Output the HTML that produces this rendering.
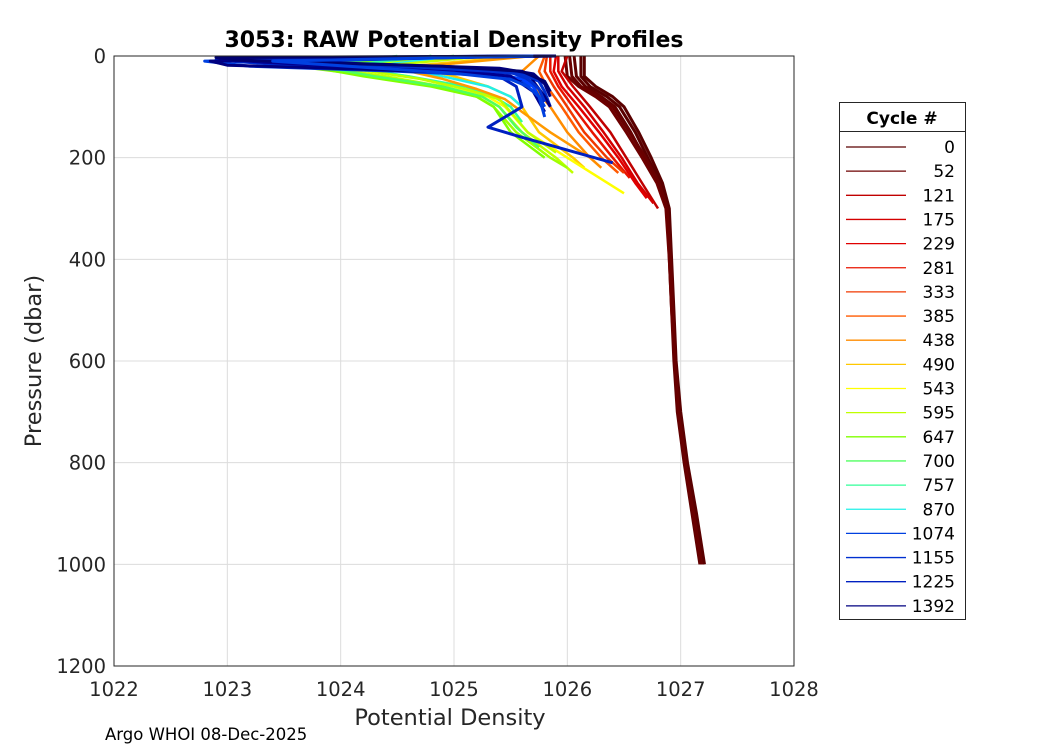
<!DOCTYPE html>
<html><head><meta charset="utf-8"><style>
body{margin:0;background:#fff;}
svg{display:block;font-family:"DejaVu Sans","Liberation Sans",sans-serif;}
</style></head><body>
<svg id="chart" width="1050" height="750">
<rect width="1050" height="750" fill="#fff"/>
<g id="grid"></g>
<g id="profiles"></g>
<rect x="114" y="56" width="680" height="610" fill="none" stroke="#262626" stroke-width="1"/>
<g id="ticks"></g>
<text x="454" y="47" text-anchor="middle" font-size="22" font-weight="bold" fill="#000">3053: RAW Potential Density Profiles</text>
<text x="450" y="725" text-anchor="middle" font-size="22.5" fill="#262626">Potential Density</text>
<text transform="translate(41,361) rotate(-90)" text-anchor="middle" font-size="22.5" fill="#262626">Pressure (dbar)</text>
<text x="105" y="740" font-size="16.5" fill="#000">Argo WHOI 08-Dec-2025</text>
<g id="legend">
<rect x="839.5" y="102.5" width="126" height="517" fill="#fff" stroke="#262626"/>
<line x1="839.5" y1="131.5" x2="965.5" y2="131.5" stroke="#262626"/>
<text x="902" y="124" text-anchor="middle" font-size="17" font-weight="bold" fill="#000">Cycle #</text>
</g>
</svg>
<script>
const xTicks=[1022,1023,1024,1025,1026,1027,1028];
const yTicks=[0,200,400,600,800,1000,1200];
const legendCycles=["0","52","121","175","229","281","333","385","438","490","543","595","647","700","757","870","1074","1155","1225","1392"];
const legendColors=["#5a0000","#6e0000","#c00000","#d40000","#e00000","#e81400","#f03800","#ff5a00","#ff8c00","#ffc800","#ffff00","#c0ff00","#80ff00","#50ff60","#30ff98","#20f0e8","#0040e0","#0030d0","#0020c0","#000080"];
const profileColors=["#5a0000","#600000","#6e0000","#5a0000","#680000","#c00000","#d40000","#e00000","#e81400","#f03800","#ff5a00","#ff8c00","#ffc800","#ffff00","#c0ff00","#a0ff00","#80ff00","#50ff60","#30ff98","#20f0e8","#c0ff00","#ff9a00","#0040e0","#0030d0","#0020c0","#000080","#0040ff","#000090","#000080","#0030d0","#000070","#0040e0"];
const profilePressures=[
[0,40,60,80,100,150,200,250,300,400,500,600,700,800,900,1000],
[0,40,60,80,100,150,200,250,300,400,500,600,700,800,900,1000],
[0,40,60,80,100,150,200,250,300,400,500,600,700,800,900,1000],
[0,40,60,80,100,150,200,250,300,400,500,600,700,800,900,1000],
[0,40,60,80,100,150,200,250,300,400,500,600,700,800,900,1000],
[0,30,60,100,150,200,250,300],
[0,30,60,100,150,200,250,290],
[0,30,60,100,150,200,250,280],
[0,30,60,100,150,200,240],
[0,30,60,100,150,200,230],
[0,30,60,100,150,200,230],
[0,30,60,100,150,200,220],
[0,20,40,60,80,100,150,200,220],
[0,20,40,60,80,100,150,200,270],
[0,20,40,60,80,100,150,200,230],
[0,20,40,60,80,100,150,200,220],
[0,20,40,60,80,100,150,200],
[0,20,40,60,80,100,140,180],
[0,20,40,60,80,100,130],
[0,20,40,60,80,100],
[0,25,45,65,85,110,150,190],
[0,25,45,65,85,110,150,200],
[0,10,20,30,40,60,80,100],
[0,8,16,25,35,50,70,100],
[0,12,20,30,40,60,100,140,160,210],
[0,10,18,26,35,50,80,100],
[0,5,14,22,30,45,60,90],
[0,6,12,20,28,40,70,110],
[0,4,10,18,24,35,55,80],
[0,8,14,22,32,45,65,90],
[0,3,8,14,20,30,50,70],
[0,10,22,34,46,60,80,120]];
const profileDensities=[
[1026.12,1026.12,1026.2,1026.35,1026.46,1026.6,1026.71,1026.82,1026.89,1026.91,1026.93,1026.95,1026.98,1027.04,1027.12,1027.19],
[1026.06,1026.08,1026.16,1026.3,1026.42,1026.56,1026.68,1026.8,1026.88,1026.9,1026.92,1026.94,1026.97,1027.03,1027.1,1027.17],
[1025.98,1026.0,1026.1,1026.25,1026.37,1026.52,1026.66,1026.79,1026.87,1026.9,1026.92,1026.95,1026.99,1027.05,1027.13,1027.2],
[1026.15,1026.15,1026.25,1026.4,1026.5,1026.63,1026.74,1026.84,1026.9,1026.92,1026.94,1026.96,1027.0,1027.06,1027.14,1027.21],
[1026.02,1026.04,1026.12,1026.28,1026.4,1026.55,1026.69,1026.81,1026.88,1026.91,1026.93,1026.95,1026.98,1027.04,1027.11,1027.18],
[1026.0,1025.95,1026.05,1026.2,1026.38,1026.52,1026.66,1026.8],
[1025.92,1025.92,1026.0,1026.15,1026.32,1026.48,1026.62,1026.76],
[1025.9,1025.88,1025.95,1026.1,1026.28,1026.45,1026.6,1026.7],
[1025.85,1025.85,1025.92,1026.05,1026.22,1026.4,1026.55],
[1025.82,1025.8,1025.88,1026.0,1026.15,1026.35,1026.5],
[1025.8,1025.75,1025.82,1025.95,1026.1,1026.3,1026.45],
[1025.75,1025.6,1025.7,1025.85,1026.0,1026.2,1026.3],
[1025.6,1024.6,1025.0,1025.3,1025.5,1025.6,1025.75,1026.05,1026.15],
[1025.4,1024.0,1024.6,1025.0,1025.3,1025.45,1025.65,1026.0,1026.5],
[1025.2,1023.8,1024.4,1024.9,1025.25,1025.4,1025.6,1025.9,1026.05],
[1025.0,1023.6,1024.3,1024.85,1025.2,1025.35,1025.55,1025.85,1026.0],
[1024.8,1023.7,1024.2,1024.8,1025.2,1025.35,1025.5,1025.8],
[1024.5,1023.8,1024.3,1024.9,1025.25,1025.4,1025.55,1025.75],
[1024.8,1024.0,1024.6,1025.1,1025.35,1025.5,1025.6],
[1025.0,1024.3,1024.9,1025.3,1025.5,1025.6],
[1025.3,1024.1,1024.7,1025.1,1025.4,1025.5,1025.65,1025.9],
[1025.7,1024.5,1024.9,1025.2,1025.45,1025.6,1025.85,1026.2],
[1025.7,1022.8,1023.2,1024.5,1025.5,1025.7,1025.75,1025.8],
[1025.8,1022.9,1023.4,1024.8,1025.6,1025.75,1025.8,1025.85],
[1025.6,1023.3,1024.0,1024.9,1025.4,1025.55,1025.6,1025.3,1025.6,1026.4],
[1025.9,1022.85,1023.0,1024.2,1025.3,1025.7,1025.8,1025.85],
[1025.5,1023.1,1023.6,1024.4,1025.2,1025.6,1025.7,1025.75],
[1025.7,1022.95,1023.3,1024.0,1025.0,1025.5,1025.7,1025.8],
[1025.8,1023.0,1023.5,1024.6,1025.4,1025.7,1025.8,1025.85],
[1025.6,1023.2,1023.8,1024.7,1025.5,1025.65,1025.75,1025.8],
[1025.9,1022.9,1023.1,1023.9,1024.9,1025.6,1025.8,1025.85],
[1025.7,1023.4,1024.2,1025.0,1025.5,1025.65,1025.75,1025.8]];
const NS="http://www.w3.org/2000/svg";
const X0=114,X1=794,Y0=56,Y1=666;
function xs(d){return X0+(d-1022)/6*(X1-X0);}
function ys(p){return Y0+p/1200*(Y1-Y0);}
function mk(tag,attrs,parent){const e=document.createElementNS(NS,tag);for(const k in attrs)e.setAttribute(k,attrs[k]);parent.appendChild(e);return e;}
const grid=document.getElementById('grid'),ticks=document.getElementById('ticks');
xTicks.forEach(t=>{
 const gl=mk('line',{x1:xs(t),x2:xs(t),y1:Y0,y2:Y1,stroke:'#dcdcdc','stroke-width':1},grid);
 
 
 const tl=mk('text',{x:xs(t),y:Y1+30,'text-anchor':'middle','font-size':19.5,fill:'#262626'},ticks);
 tl.textContent=t;
 
 
});
yTicks.forEach(t=>{
 const gl=mk('line',{x1:X0,x2:X1,y1:ys(t),y2:ys(t),stroke:'#dcdcdc','stroke-width':1},grid);
 
 
 const tl=mk('text',{x:X0-8,y:ys(t)+7,'text-anchor':'end','font-size':19.5,fill:'#262626'},ticks);
 tl.textContent=t;
 
 
});
const pg=document.getElementById('profiles');
profileDensities.forEach((ds,i)=>{
 const ps=profilePressures[i];
 const pts=ds.map((d,j)=>xs(d).toFixed(1)+','+ys(ps[j]).toFixed(1)).join(' ');
 const w=i<5?3:(i>=22?3:2.5);
 const pl=mk('polyline',{points:pts,fill:'none',stroke:profileColors[i],'stroke-width':w,'stroke-linejoin':'round'},pg);
 
 
});
const lg=document.getElementById('legend');
legendCycles.forEach((c,i)=>{
 const y=147+i*24.15;
 const ln=mk('line',{x1:846,x2:906,y1:y,y2:y,stroke:legendColors[i],'stroke-width':1.3},lg);
 
 
 const tx=mk('text',{x:955,y:y+6,'text-anchor':'end','font-size':17,fill:'#000'},lg);
 tx.textContent=c;
 
 
});
</script>
</body></html>
